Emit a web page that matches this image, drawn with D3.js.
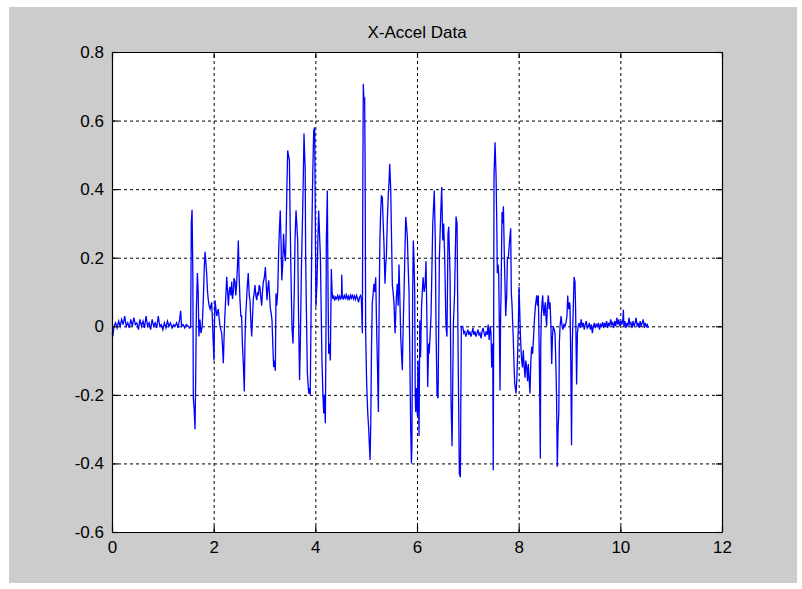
<!DOCTYPE html>
<html>
<head>
<meta charset="utf-8">
<script src="https://cdn.jsdelivr.net/npm/d3@7"></script>
<style>
  body { margin: 0; background: #fff; }
  svg { display: block; font-family: "Liberation Sans", Arial, sans-serif; }
</style>
</head>
<body>
<div id="chart-area"></div>
<script>
// tick values
var xTicks = [0, 2, 4, 6, 8, 10, 12];
var yTicks = [-0.6, -0.4, -0.2, 0, 0.2, 0.4, 0.6, 0.8];
var yTickLabels = ["-0.6", "-0.4", "-0.2", "0", "0.2", "0.4", "0.6", "0.8"];

// time (s)
var times = [
  0, 0.02, 0.04, 0.07, 0.1, 0.13, 0.16, 0.19, 0.22, 0.25, 0.28, 0.31, 0.34, 0.37, 0.40, 0.43, 0.46, 0.49, 0.52, 0.55,
  0.58, 0.61, 0.64, 0.67, 0.70, 0.73, 0.76, 0.79, 0.82, 0.85, 0.88, 0.91, 0.94, 0.97, 1.0, 1.03, 1.06, 1.09, 1.12, 1.15,
  1.18, 1.21, 1.24, 1.27, 1.30, 1.33, 1.35, 1.37, 1.40, 1.43, 1.46, 1.50, 1.53,
  1.548, 1.56, 1.575, 1.59, 1.60, 1.615, 1.633, 1.645, 1.66, 1.68, 1.695, 1.71, 1.73, 1.75, 1.775, 1.797, 1.815, 1.83,
  1.845, 1.86, 1.88, 1.895, 1.91, 1.93, 1.96, 1.975, 1.99, 2.006, 2.015, 2.026, 2.045, 2.06, 2.09, 2.11, 2.125, 2.158,
  2.175, 2.19, 2.205, 2.22, 2.24, 2.257, 2.275, 2.29, 2.305, 2.32, 2.34, 2.355, 2.37, 2.387, 2.40, 2.42, 2.435, 2.45,
  2.47, 2.485, 2.50, 2.518, 2.535, 2.55, 2.565, 2.583, 2.603, 2.615, 2.63, 2.655, 2.68, 2.70, 2.715, 2.73, 2.748, 2.765,
  2.78, 2.80, 2.813, 2.83, 2.847, 2.865, 2.88, 2.895, 2.91, 2.93, 2.945, 2.96, 2.977, 2.995, 3.01,
  3.017, 3.035, 3.05, 3.065, 3.083, 3.10, 3.115, 3.13, 3.148, 3.165, 3.18, 3.195, 3.213, 3.226, 3.24, 3.26, 3.275, 3.29,
  3.31, 3.325, 3.34, 3.358, 3.375, 3.39, 3.41, 3.423, 3.44, 3.456, 3.47, 3.49, 3.505, 3.52, 3.54, 3.56, 3.575, 3.587,
  3.60, 3.62, 3.635, 3.653, 3.67, 3.69, 3.705, 3.725, 3.75, 3.765, 3.777, 3.79, 3.80, 3.81, 3.823, 3.843, 3.87, 3.885,
  3.90, 3.92, 3.935, 3.95, 3.968, 3.987, 4.0, 4.013, 4.033, 4.05, 4.066, 4.08, 4.10, 4.115, 4.13, 4.15, 4.165, 4.18,
  4.197, 4.21, 4.216, 4.236, 4.25, 4.263, 4.28, 4.295, 4.315, 4.33, 4.342, 4.36,
  4.38, 4.40, 4.42, 4.44, 4.46, 4.48, 4.50, 4.515, 4.52, 4.53, 4.55, 4.57, 4.59, 4.61, 4.63, 4.65, 4.67, 4.69, 4.71,
  4.73, 4.75, 4.77, 4.79, 4.81, 4.83, 4.85, 4.87, 4.89, 4.905,
  4.925, 4.935, 4.944, 4.955, 4.97, 4.98, 4.99, 5.01, 5.03, 5.05, 5.076, 5.09, 5.105, 5.12, 5.154, 5.17, 5.188, 5.205,
  5.22, 5.24, 5.255, 5.27, 5.286, 5.30, 5.318, 5.335, 5.35, 5.37, 5.385, 5.397, 5.416, 5.436, 5.45, 5.463, 5.483, 5.50,
  5.515, 5.53, 5.548, 5.568, 5.594, 5.613, 5.63, 5.646, 5.66, 5.68, 5.695, 5.711, 5.725, 5.745, 5.76, 5.778, 5.79, 5.81,
  5.825, 5.843, 5.86, 5.876, 5.89, 5.90, 5.915, 5.928, 5.94, 5.955, 5.965, 5.975, 5.99, 6.007, 6.02, 6.04,
  6.055, 6.07, 6.09, 6.12, 6.14, 6.16, 6.177, 6.197, 6.21, 6.23, 6.24, 6.276, 6.31, 6.34, 6.36, 6.374, 6.394, 6.414,
  6.44, 6.467, 6.486, 6.506, 6.525, 6.545, 6.57, 6.59, 6.61, 6.624, 6.65, 6.67, 6.69, 6.715, 6.74, 6.768, 6.788, 6.807,
  6.833, 6.853, 6.872, 6.9,
  6.92, 6.94, 6.96, 6.98, 7.0, 7.02, 7.04, 7.06, 7.08, 7.10, 7.12, 7.14, 7.16, 7.18, 7.20, 7.22, 7.24, 7.26, 7.28, 7.30,
  7.32, 7.34, 7.36, 7.38, 7.40, 7.42, 7.44,
  7.456, 7.47, 7.49, 7.50, 7.51, 7.515, 7.535, 7.555, 7.57, 7.58, 7.595, 7.607, 7.62, 7.633, 7.645, 7.653, 7.673, 7.685,
  7.70, 7.72, 7.735, 7.745, 7.765, 7.778, 7.797, 7.816, 7.843, 7.855, 7.87, 7.895, 7.91, 7.922, 7.948, 7.965, 7.98, 8.0,
  8.007, 8.02, 8.033, 8.05, 8.06, 8.075, 8.09, 8.11, 8.125, 8.14, 8.158, 8.175, 8.19,
  8.205, 8.223, 8.24, 8.257, 8.275, 8.29, 8.31, 8.33, 8.355, 8.37, 8.387, 8.397, 8.407, 8.426, 8.435, 8.446, 8.46, 8.473,
  8.485, 8.5, 8.515, 8.525, 8.54, 8.55, 8.565, 8.584, 8.60, 8.617, 8.635, 8.65, 8.665, 8.68, 8.70, 8.715, 8.73, 8.745,
  8.76, 8.775, 8.79, 8.80, 8.814, 8.834, 8.85, 8.87, 8.89, 8.91, 8.93, 8.95, 8.965, 8.975, 8.985, 9.0, 9.01, 9.025, 9.04,
  9.055, 9.07, 9.09, 9.108, 9.12, 9.14, 9.155, 9.17,
  9.19, 9.21, 9.23, 9.25, 9.27, 9.29, 9.31, 9.33, 9.35, 9.37, 9.39, 9.41, 9.43, 9.45, 9.47, 9.49, 9.51, 9.53, 9.55, 9.57,
  9.59, 9.61, 9.63, 9.65, 9.67, 9.69, 9.71, 9.73, 9.75, 9.77, 9.79, 9.81, 9.83, 9.85, 9.87, 9.89, 9.91, 9.93, 9.95, 9.97,
  9.99, 10.01, 10.03, 10.05, 10.06, 10.07, 10.09, 10.11, 10.13, 10.15, 10.17, 10.19, 10.21, 10.23, 10.25, 10.27, 10.29,
  10.31, 10.33, 10.35, 10.37, 10.39, 10.41, 10.43, 10.45, 10.47, 10.49, 10.51, 10.53, 10.55
];

// x acceleration
var accel = [
  -0.02, -0.025, 0.0, 0.01, -0.005, 0.015, 0.0, 0.02, 0.005, 0.03, 0.0, 0.01, -0.005, 0.02, 0.0, 0.025, 0.005, 0.01, -0.01, 0.02,
  0.0, 0.015, -0.005, 0.03, 0.0, 0.01, -0.01, 0.02, 0.0, 0.01, -0.005, 0.03, 0.0, 0.005, -0.01, 0.01, -0.005, 0.015, 0.0, 0.01,
  -0.005, 0.005, 0.0, 0.01, -0.005, 0.02, 0.045, 0.0, 0.005, -0.005, 0.005, 0.0, -0.005,
  0.0, 0.30, 0.34, 0.16, -0.21, -0.24, -0.30, -0.17, 0.05, 0.155, 0.10, -0.03, 0.02, -0.02, 0.0, 0.08, 0.17, 0.217,
  0.19, 0.16, 0.10, 0.076, 0.06, 0.05, 0.07, 0.02, -0.04, -0.10, 0.0, 0.076, 0.05, 0.03, 0.05, 0.02, 0.0, -0.02,
  -0.06, -0.108, -0.03, 0.03, 0.09, 0.144, 0.10, 0.06, 0.10, 0.115, 0.09, 0.13, 0.08, 0.10, 0.14, 0.13, 0.09, 0.12,
  0.18, 0.25, 0.15, 0.076, 0.03, 0.03, -0.05, -0.108, -0.19, -0.05, 0.03, 0.10, 0.155, 0.09, 0.076, 0.02, -0.03, 0.03,
  0.08, 0.10, 0.12, 0.09, 0.076, 0.10, 0.09, 0.12, 0.115, 0.08, 0.06, 0.10, 0.13, 0.14, 0.16,
  0.173, 0.12, 0.076, 0.11, 0.134, 0.09, 0.052, 0.04, 0.017, -0.06, -0.119, -0.10, -0.13, 0.096, 0.06, 0.10, 0.20, 0.27,
  0.338, 0.25, 0.134, 0.18, 0.27, 0.22, 0.19, 0.25, 0.40, 0.513, 0.50, 0.484, 0.30, 0.16, 0.0, -0.05, 0.03, 0.11,
  0.25, 0.338, 0.30, 0.25, 0.027, -0.157, -0.05, 0.16, 0.33, 0.45, 0.562, 0.50, 0.46, 0.20, 0.057, -0.137, -0.196, -0.18,
  -0.20, 0.10, 0.309, 0.45, 0.571, 0.58, 0.30, 0.057, 0.13, 0.25, 0.338, 0.28, 0.20, 0.05, -0.10, -0.20, -0.254, -0.20,
  -0.283, 0.0, 0.24, 0.396, 0.10, -0.08, -0.05, -0.10, 0.167, 0.10, 0.08, 0.09,
  0.075, 0.085, 0.08, 0.09, 0.078, 0.088, 0.08, 0.085, 0.15, 0.09, 0.078, 0.09, 0.082, 0.092, 0.08, 0.088, 0.076, 0.09, 0.082,
  0.093, 0.08, 0.088, 0.078, 0.09, 0.082, 0.07, 0.085, 0.09, 0.08,
  -0.02, 0.45, 0.707, 0.66, 0.668, 0.45, -0.02, -0.17, -0.25, -0.30, -0.39, -0.29, -0.06, 0.066, 0.124, 0.10, 0.143, 0.0,
  -0.10, -0.25, 0.05, 0.25, 0.338, 0.38, 0.377, 0.30, 0.242, 0.124, 0.18, 0.2, 0.309, 0.387, 0.42, 0.474, 0.40, 0.25,
  0.12, 0.10, 0.066, -0.02, 0.086, 0.124, 0.06, 0.18, 0.10, -0.03, -0.08, -0.128, -0.02, 0.10, 0.20, 0.319, 0.30, 0.26,
  0.18, 0.10, -0.10, -0.30, -0.40, -0.35, 0.10, 0.25, 0.20, 0.10, -0.20, -0.25, -0.18, -0.26, -0.10, -0.32,
  0.017, -0.09, 0.06, 0.143, 0.10, 0.12, 0.19, 0.0, -0.177, -0.05, -0.08, 0.03, 0.30, 0.396, 0.25, 0.0, -0.2, -0.21,
  0.20, 0.33, 0.406, 0.25, 0.30, 0.20, 0.0, -0.03, 0.27, 0.29, 0.15, -0.22, -0.35, 0.0, 0.10, 0.32, 0.30, -0.05,
  -0.43, -0.44, 0.0, 0.0,
  -0.02, -0.015, -0.03, -0.02, -0.01, -0.025, -0.015, -0.03, -0.02, -0.005, -0.025, -0.015, -0.03, -0.02, -0.01, -0.025, -0.02, -0.035, -0.015, -0.005,
  -0.02, -0.03, -0.015, -0.025, 0.005, -0.04, 0.0,
  -0.02, -0.12, -0.05, -0.42, 0.10, 0.44, 0.537, 0.44, 0.30, 0.155, 0.18, 0.15, 0.0, -0.187, 0.03, 0.09, 0.333, 0.30,
  0.35, 0.19, 0.10, 0.03, 0.09, 0.2, 0.20, 0.24, 0.286, 0.10, 0.06, -0.04, -0.12, -0.167, -0.196, -0.15, -0.08, 0.05,
  0.115, 0.05, -0.02, -0.08, -0.10, -0.12, -0.07, -0.12, -0.15, -0.10, -0.12, -0.16, -0.11,
  -0.15, -0.196, -0.10, -0.06, -0.08, -0.04, 0.02, 0.06, 0.09, 0.06, 0.09, 0.0, -0.10, -0.386, -0.05, 0.03, 0.07, 0.09,
  0.05, 0.03, 0.06, 0.07, 0.02, 0.0, 0.06, 0.09, 0.05, 0.07, 0.0, -0.11, -0.03, 0.0, -0.01, -0.02, -0.10, -0.2,
  -0.41, -0.30, -0.25, -0.05, 0.0, 0.03, 0.005, -0.01, 0.005, 0.0, 0.01, 0.03, 0.09, 0.06, 0.05, 0.07, 0.06, -0.10, -0.347,
  -0.05, 0.03, 0.144, 0.13, 0.05, -0.17, -0.02, 0.0,
  0.01, -0.005, 0.02, 0.0, 0.01, -0.01, 0.005, 0.015, -0.005, 0.0, 0.01, -0.01, 0.005, -0.02, 0.0, 0.01, -0.005, 0.005, 0.0, 0.01,
  -0.01, 0.005, 0.0, 0.012, -0.005, 0.01, 0.0, 0.015, -0.005, 0.01, 0.0, 0.02, 0.005, 0.01, -0.005, 0.015, 0.0, 0.025, 0.005, 0.02,
  0.0, 0.015, 0.005, 0.02, 0.048, 0.0, 0.015, -0.005, 0.01, 0.0, 0.025, 0.005, 0.01, -0.005, 0.015, 0.0, 0.01,
  0.025, 0.0, 0.01, -0.005, 0.015, 0.0, 0.01, 0.02, -0.005, 0.01, 0.0, 0.005, -0.005
];

var W = 802, H = 589;
var margin = {top: 52, right: 80, bottom: 57, left: 112};
var width = W - margin.left - margin.right;   // 610
var height = H - margin.top - margin.bottom;  // 480

var svg = d3.select("#chart-area").append("svg")
  .attr("width", W)
  .attr("height", H);

// grey figure background
svg.append("rect")
  .attr("x", 9).attr("y", 7)
  .attr("width", 788).attr("height", 576)
  .attr("fill", "#cccccc");

var g = svg.append("g")
  .attr("transform", "translate(" + margin.left + "," + margin.top + ")");

var x = d3.scaleLinear().domain([0, 12]).range([0, width]);
var y = d3.scaleLinear().domain([-0.6, 0.8]).range([height, 0]);

g.append("rect")
  .attr("width", width).attr("height", height)
  .attr("fill", "#ffffff");

// dotted grid
g.append("g")
  .attr("class", "grid")
  .attr("transform", "translate(0," + height + ")")
  .call(d3.axisBottom(x).tickValues(xTicks.slice(1, -1)).tickSize(-height).tickFormat(""))
  .call(s => s.select(".domain").remove());
g.append("g")
  .attr("class", "grid")
  .call(d3.axisLeft(y).tickValues(yTicks.slice(1, -1)).tickSize(-width).tickFormat(""))
  .call(s => s.select(".domain").remove());
g.selectAll(".grid line")
  .attr("stroke", "#000")
  .attr("stroke-width", 1)
  .attr("stroke-dasharray", "3,3");

// signal
var pts = times.map((t, i) => [t, accel[i]]);
var line = d3.line()
  .x(d => x(d[0]))
  .y(d => y(d[1]));
g.append("path")
  .datum(pts)
  .attr("fill", "none")
  .attr("stroke", "#0000ff")
  .attr("stroke-width", 1.3)
  .attr("d", line);

// axes with inward ticks on all four sides
var fmtY = d => yTickLabels[yTicks.indexOf(d)];
var axB = g.append("g")
  .attr("transform", "translate(0," + height + ")")
  .call(d3.axisBottom(x).tickValues(xTicks).tickSizeInner(-6).tickSizeOuter(0).tickPadding(9).tickFormat(d3.format("d")));
var axL = g.append("g")
  .call(d3.axisLeft(y).tickValues(yTicks).tickSizeInner(-6).tickSizeOuter(0).tickPadding(8).tickFormat(fmtY));
var axT = g.append("g")
  .call(d3.axisTop(x).tickValues(xTicks).tickSizeInner(-6).tickSizeOuter(0).tickFormat(""));
var axR = g.append("g")
  .attr("transform", "translate(" + width + ",0)")
  .call(d3.axisRight(y).tickValues(yTicks).tickSizeInner(-6).tickSizeOuter(0).tickFormat(""));

[axB, axL, axT, axR].forEach(a => {
  a.selectAll("path, line").attr("stroke", "#000").attr("stroke-width", 1.2);
  a.selectAll("text")
    .attr("fill", "#000")
    .style("font-size", "17px")
    .style("font-family", "'Liberation Sans', Arial, sans-serif");
});

// title
g.append("text")
  .attr("x", width / 2)
  .attr("y", -14)
  .attr("text-anchor", "middle")
  .attr("fill", "#000")
  .style("font-size", "17px")
  .style("font-family", "'Liberation Sans', Arial, sans-serif")
  .text("X-Accel Data");
</script>
</body>
</html>
